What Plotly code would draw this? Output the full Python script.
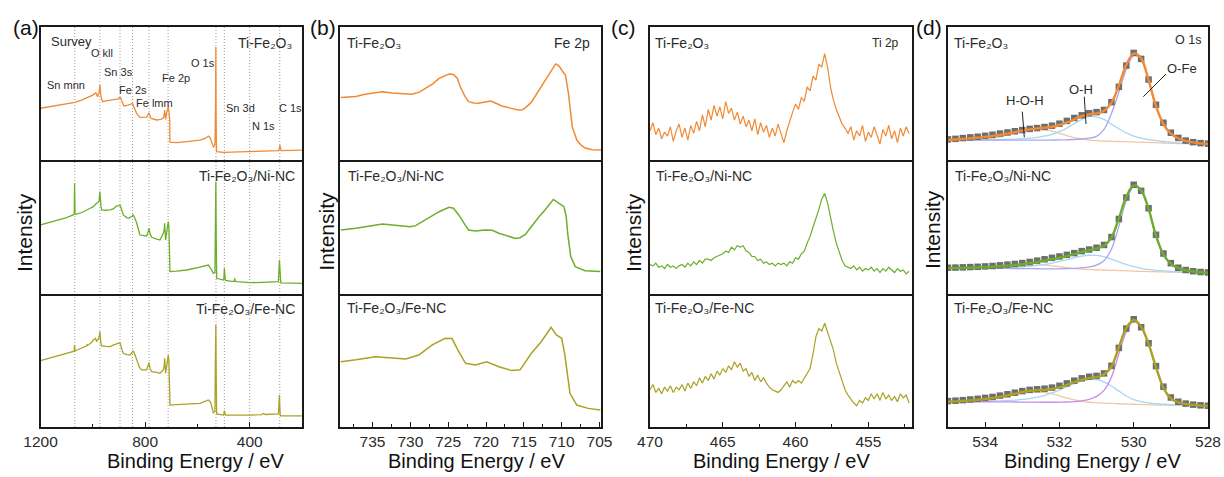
import numpy as np
import plotly.graph_objects as go

# ---------------------------------------------------------------- data
SAMPLES = ["Ti-Fe₂O₃",
           "Ti-Fe₂O₃/Ni-NC",
           "Ti-Fe₂O₃/Fe-NC"]

# (a) survey spectra: (binding energy / eV, intensity / a.u.)
survey_ti = [
    (1200, 38.9), (1150, 40.5), (1100, 42.3), (1068.6, 43.4), (1040, 45.2), (1010, 47.8),
    (998.4, 49.0), (988, 50.6), (985.6, 49.5), (981.8, 47.6), (976, 51.0), (972.9, 56.4),
    (969, 48.0), (962.7, 43.8), (950, 44.5), (934.6, 45.1), (915, 45.6), (902.7, 46.0),
    (897, 47.0), (893.8, 46.8), (888, 44.0), (881, 40.6), (865, 41.3), (851.7, 42.1),
    (848, 42.5), (845.3, 41.0), (838, 37.0), (832.5, 35.1), (819.8, 32.1), (805, 32.0),
    (794.2, 32.3), (789, 34.0), (785.3, 35.6), (781, 33.0), (777.6, 31.3), (755.9, 30.1),
    (740, 30.6), (730.4, 31.5), (727, 34.0), (725.3, 37.6), (723, 33.0), (721.5, 30.5),
    (718, 35.0), (715.1, 38.0), (711.3, 40.1), (709, 37.0), (706, 30.0), (704.9, 13.5),
    (690, 13.2), (679.4, 13.0), (640, 13.8), (590.1, 15.0), (570, 16.2), (558.2, 18.0),
    (552, 17.0), (549.2, 15.5), (545, 12.5), (539, 10.0), (534, 11.0), (532.7, 12.5),
    (530.5, 45.0), (529.5, 85.0), (528.5, 30.0), (527, 8.0), (526.3, 6.3), (500.8, 5.8),
    (450, 5.9), (398.7, 6.3), (350, 6.6), (290.2, 7.0), (286, 9.0), (284.5, 11.3),
    (283, 8.0), (280, 7.0), (240, 7.2), (200.9, 7.5)]

survey_ni = [
    (1200, 51.5), (1150, 54.0), (1100, 57.0), (1075, 59.0), (1071, 59.5), (1069.8, 82.6),
    (1068, 60.0), (1064.7, 59.5), (1040, 61.0), (1010, 64.0), (998.4, 65.2), (985.6, 67.7),
    (979.3, 68.5), (975.5, 70.0), (972.9, 76.4), (969, 66.0), (966.5, 62.7), (950, 62.5),
    (934.6, 62.7), (921.8, 63.5), (909.1, 65.7), (900, 66.0), (896.3, 66.4), (890, 63.0),
    (883.6, 59.0), (870, 57.0), (864.4, 56.5), (850, 58.0), (845.3, 59.0), (838, 56.0),
    (832.5, 53.2), (819.8, 44.0), (805, 43.5), (794.2, 43.3), (789, 46.0), (785.3, 49.0),
    (781, 45.0), (775.1, 42.3), (755, 41.0), (743.2, 40.3), (730.4, 45.3), (727, 48.0),
    (725.3, 52.8), (723, 44.0), (721.5, 40.3), (716, 48.0), (713, 52.0), (711.3, 54.0),
    (709, 50.0), (706, 35.0), (704.9, 16.7), (680, 17.0), (641.1, 17.9), (590.1, 20.0),
    (558.2, 21.6), (549.2, 19.2), (539, 15.4), (533, 16.0), (531.5, 50.0), (529.5, 83.8),
    (528, 40.0), (526.3, 11.7), (500.8, 10.4), (498.5, 12.0), (496.9, 19.2), (495, 11.0),
    (493.1, 10.2), (470, 9.4), (462.5, 9.2), (459, 9.5), (457.5, 11.7), (455, 9.5),
    (449.7, 9.2), (398.7, 8.5), (350, 8.7), (290.2, 9.2), (286.4, 25.4), (283.5, 9.0),
    (281.3, 8.3), (240, 8.1), (200.9, 8.0)]

survey_fe = [
    (1200, 49.9), (1150, 52.5), (1100, 55.2), (1075, 56.6), (1071, 57.0), (1069.8, 61.7),
    (1068, 57.2), (1064.7, 57.5), (1040, 59.5), (1022.5, 61.0), (1021.4, 62.4), (1019, 61.5),
    (1016.3, 61.8), (1005, 63.5), (998.4, 65.4), (990, 66.5), (985.6, 64.5), (979.3, 66.0),
    (975.5, 68.0), (972.9, 71.7), (969, 63.0), (966.5, 60.9), (950, 60.6), (934.6, 60.4),
    (921.8, 61.5), (909.1, 62.3), (900, 63.0), (896.3, 63.4), (890, 59.0), (883.6, 55.4),
    (870, 54.5), (858, 54.1), (850, 56.0), (845.3, 57.4), (838, 54.0), (832.5, 50.4),
    (822, 45.0), (813.4, 42.9), (794.2, 42.9), (789, 46.0), (785.3, 48.4), (781, 44.0),
    (775.1, 41.6), (755, 41.0), (743.2, 40.4), (730.4, 42.9), (727, 46.0), (725.3, 51.6),
    (723, 43.0), (721.5, 40.4), (716, 48.0), (713, 52.0), (711.3, 54.1), (709, 49.0),
    (706, 35.0), (704.9, 16.5), (680, 16.8), (641.1, 17.3), (590.1, 17.8), (558.2, 20.3),
    (549.2, 18.5), (539, 10.8), (533, 11.5), (531.5, 45.0), (529.5, 76.7), (528, 35.0),
    (526.3, 9.8), (500.8, 9.0), (498.5, 10.0), (496.9, 12.3), (495, 9.2), (493.1, 9.0),
    (398.7, 9.0), (355, 9.3), (347.6, 10.2), (340, 9.4), (290.2, 9.8), (286.4, 24.1),
    (283.5, 9.0), (281.3, 8.3), (240, 8.3), (200.9, 8.3)]

survey_peaks = [1069, 973, 896, 848, 785, 712, 529, 497, 400, 285]
survey_labels = [("Sn mnn", 65.8, 85), ("O kll", 101.7, 53.3), ("Sn 3s", 118, 71.7),
                 ("Fe 2s", 133, 90), ("Fe lmm", 154.7, 103.3), ("Fe 2p", 175.7, 77.7),
                 ("O 1s", 203, 62.7), ("Sn 3d", 240.8, 108.3), ("N 1s", 263, 126),
                 ("C 1s", 290.8, 107.7)]

# (b) Fe 2p
fe2p_ti = [
    (739.2, 46.9), (738.5, 47.3), (737.2, 47.8), (736, 49.5), (735, 50.5), (733.7, 51.4),
    (732.4, 50.3), (731, 49.6), (729.8, 49.4), (728.8, 51.0), (728, 53.9), (727, 57.5),
    (726.2, 61.4), (725.5, 63.5), (724.9, 64.7), (724.3, 64.3), (723.8, 61.5), (723.4, 55.1),
    (722.8, 48.0), (722.3, 43.9), (721.6, 42.8), (721, 42.6), (720.2, 43.5), (719.4, 44.4),
    (718.6, 42.5), (717.9, 40.6), (716.8, 39.0), (715.7, 37.6), (715.2, 37.8), (714.8, 39.2),
    (714, 43.5), (713, 52.6), (712.2, 59.0), (711.5, 66.4), (711.1, 70.0), (710.8, 72.2),
    (710.5, 71.3), (710.2, 69.5), (709.8, 66.0), (709.5, 63.9), (709.1, 50.0), (708.6, 25.0),
    (708, 15.0), (707.4, 11.0), (706.9, 9.0), (706, 7.8), (704.8, 7.5)]

fe2p_ni = [
    (739.2, 47.8), (737.2, 49.0), (733.7, 52.2), (732.4, 51.5), (730, 50.2), (729.3, 51.0),
    (728, 55.2), (726.2, 61.4), (724.9, 64.7), (724.3, 64.0), (723.6, 59.0), (723.2, 55.2),
    (722.7, 51.0), (722.3, 47.8), (721.4, 47.0), (720.1, 47.8), (719.2, 47.5), (718.3, 45.3),
    (716.1, 41.5), (715.5, 42.0), (714.8, 44.5), (713, 57.7), (712.2, 62.7), (711.1, 70.6),
    (710.4, 67.7), (709.7, 65.2), (709.4, 58.0), (709.2, 45.0), (708.8, 27.9), (708.2, 20.4),
    (706.9, 17.4), (704.9, 16.7)]

fe2p_fe = [
    (739.2, 49.1), (737.2, 50.5), (734.6, 52.9), (732.9, 52.0), (730.6, 51.1), (728.9, 54.1),
    (727.1, 61.7), (725.4, 66.7), (724.5, 66.5), (723.6, 56.6), (722.7, 47.9), (721.4, 46.6),
    (719.9, 49.1), (718.3, 45.3), (716.6, 42.4), (715.5, 43.0), (714, 55.4), (712.7, 64.1),
    (711.4, 75.0), (710.7, 69.2), (710, 66.7), (709.6, 55.0), (708.9, 25.3), (708, 16.5),
    (706.5, 14.0), (704.9, 12.8)]

# (c) Ti 2p, 0.2 eV steps from 470.0 eV
ti2p_energy = np.round(470.0 - 0.2 * np.arange(90), 1)
ti2p_ti = [22, 28, 19, 24, 16, 21, 18, 25, 14, 22,
           27, 17, 24, 15, 26, 20, 29, 22, 34, 25,
           38, 30, 41, 33, 40, 31, 44, 35, 39, 30,
           36, 27, 33, 25, 30, 22, 31, 19, 28, 21,
           26, 17, 24, 18, 27, 20, 13, 22, 30, 36,
           42, 38, 47, 44, 55, 52, 63, 60, 72, 70,
           80, 70, 55, 45, 38, 32, 27, 24, 20, 25,
           15, 22, 18, 26, 14, 21, 17, 25, 19, 12,
           23, 18, 26, 16, 22, 13, 24, 18, 25, 20]
ti2p_ni = [22, 21, 23, 20, 21, 19, 22, 20, 21, 19,
           21, 22, 20, 23, 21, 24, 22, 25, 23, 26,
           26, 25, 27, 28, 29, 30, 32, 31, 35, 33,
           36, 35, 36, 32, 31, 28, 28, 25, 26, 23,
           24, 22, 23, 21, 23, 22, 23, 21, 24, 23,
           27, 26, 30, 32, 38, 43, 50, 56, 63, 71,
           75, 68, 57, 47, 38, 31, 25, 21, 20, 19,
           21, 18, 20, 17, 19, 18, 20, 17, 19, 16,
           19, 17, 20, 18, 16, 19, 17, 18, 15, 17]
ti2p_fe = [28, 32, 26, 29, 25, 30, 27, 31, 26, 30,
           28, 32, 27, 33, 29, 34, 31, 37, 33, 38,
           35, 40, 36, 42, 39, 44, 41, 46, 43, 49,
           45, 48, 42, 44, 38, 41, 35, 39, 34, 37,
           33, 30, 28, 27, 26, 28, 31, 34, 30, 35,
           33, 35, 33, 37, 40, 44, 55, 68, 74, 72,
           78, 71, 65, 58, 48, 41, 34, 28, 24, 21,
           18, 16, 20, 18, 22, 20, 25, 21, 25, 20,
           26, 21, 24, 20, 23, 19, 25, 22, 24, 18]

# (d) O 1s: measured points, fit envelope and fitted components
o1s_energy = [535.0, 534.8, 534.6, 534.4, 534.2, 534.0, 533.8, 533.6, 533.4, 533.2,
              533.0, 532.8, 532.6, 532.4, 532.2, 532.0, 531.8, 531.6, 531.4, 531.2,
              531.0, 530.8, 530.6, 530.4, 530.2, 530.0, 529.8, 529.6, 529.4, 529.2,
              529.0, 528.8, 528.6, 528.4, 528.2, 528.0]

o1s_raw_ti = [15.5, 15.9, 16.5, 17.0, 17.5, 18.2, 19.0, 19.9, 20.7, 21.6,
              22.5, 23.4, 24.0, 24.8, 25.8, 27.3, 29.4, 31.6, 33.6, 35.2,
              36.0, 37.6, 43.5, 55.0, 71.0, 80.5, 76.0, 60.5, 41.5, 28.0,
              20.5, 16.6, 14.6, 13.4, 12.7, 12.3]
o1s_fit_ti = [15.0, 15.4, 15.8, 16.3, 16.8, 17.4, 18.1, 18.9, 19.8, 20.9,
              22.0, 23.0, 23.7, 24.2, 25.0, 26.3, 28.2, 30.6, 32.9, 34.3,
              35.0, 37.0, 43.0, 56.0, 71.5, 80.0, 76.5, 60.0, 40.5, 27.0,
              19.8, 16.3, 14.4, 13.2, 12.5, 12.1]
o1s_hoh_ti = [15.0, 15.0, 15.1, 15.2, 15.4, 15.8, 16.4, 17.4, 18.8, 20.4,
              22.0, 23.0, 23.3, 23.0, 21.8, 20.1, 18.4, 16.9, 15.8, 15.0,
              14.5, 14.2, 14.05, 13.9, 13.75, 13.6, 13.4, 13.2, 13.0, 12.8,
              12.6, 12.4, 12.25, 12.1, 11.95, 11.8]
o1s_oh_ti = [15.0, 15.0, 15.05, 15.1, 15.15, 15.2, 15.3, 15.4, 15.5, 15.7,
             16.0, 16.4, 17.0, 17.9, 19.3, 21.3, 24.0, 27.3, 30.5, 32.6,
             32.5, 30.5, 27.0, 23.5, 20.4, 18.0, 16.4, 15.3, 14.5, 13.9,
             13.4, 12.9, 12.5, 12.2, 12.0, 11.8]
o1s_ofe_ti = [15.0, 15.0, 15.0, 15.0, 15.0, 15.0, 15.0, 15.0, 15.0, 15.0,
              15.0, 15.0, 15.0, 15.0, 15.0, 15.1, 15.2, 15.4, 15.8, 16.4,
              17.8, 23.0, 35.0, 51.0, 68.0, 78.5, 75.5, 59.5, 40.0, 26.8,
              19.6, 16.1, 14.2, 13.0, 12.3, 11.9]

o1s_raw_ni = [19.6, 19.7, 19.9, 20.1, 20.3, 20.6, 20.9, 21.4, 21.9, 22.4,
              23.1, 23.9, 24.9, 25.9, 27.0, 28.0, 29.2, 30.5, 32.0, 33.2,
              34.5, 36.6, 42.5, 56.0, 72.0, 81.5, 77.0, 64.0, 44.2, 30.2,
              23.0, 19.6, 17.9, 17.0, 16.4, 16.1]
o1s_fit_ni = [19.2, 19.3, 19.5, 19.6, 19.8, 20.0, 20.3, 20.7, 21.1, 21.6,
              22.3, 23.0, 23.9, 25.0, 26.0, 27.1, 28.3, 29.8, 31.4, 32.7,
              33.9, 36.0, 42.0, 56.5, 72.5, 81.0, 77.5, 63.5, 43.5, 29.5,
              22.5, 19.3, 17.7, 16.8, 16.2, 15.9]
o1s_hoh_ni = [19.2, 19.2, 19.2, 19.25, 19.3, 19.4, 19.5, 19.7, 20.0, 20.4,
              20.8, 21.3, 21.6, 21.5, 21.0, 20.3, 19.6, 19.0, 18.6, 18.3,
              18.1, 17.9, 17.7, 17.5, 17.3, 17.1, 16.9, 16.75, 16.6, 16.45,
              16.3, 16.2, 16.1, 16.0, 15.9, 15.8]
o1s_oh_ni = [19.2, 19.2, 19.25, 19.3, 19.35, 19.4, 19.5, 19.6, 19.8, 20.0,
             20.3, 20.7, 21.3, 22.1, 23.1, 24.3, 25.6, 27.0, 28.2, 28.9,
             28.8, 27.8, 26.0, 24.0, 22.0, 20.4, 19.2, 18.3, 17.7, 17.3,
             16.9, 16.6, 16.3, 16.1, 15.9, 15.8]
o1s_ofe_ni = [19.2, 19.2, 19.2, 19.2, 19.2, 19.2, 19.15, 19.1, 19.05, 19.0,
              18.95, 18.9, 18.85, 18.8, 18.8, 18.8, 18.9, 19.1, 19.5, 20.2,
              21.6, 24.8, 33.5, 50.5, 69.5, 80.0, 76.8, 63.0, 43.0, 29.0,
              22.2, 19.0, 17.5, 16.6, 16.1, 15.8]

o1s_raw_fe = [19.5, 19.8, 20.2, 20.7, 21.2, 21.9, 22.6, 23.6, 24.6, 25.8,
              27.0, 27.9, 28.4, 28.8, 29.6, 31.0, 32.8, 34.8, 36.6, 37.8,
              38.4, 40.3, 46.0, 59.5, 74.0, 81.0, 75.0, 63.0, 45.8, 30.3,
              22.2, 19.0, 17.6, 16.8, 16.3, 16.0]
o1s_fit_fe = [19.0, 19.3, 19.6, 20.0, 20.5, 21.1, 21.8, 22.7, 23.8, 25.0,
              26.3, 27.3, 27.7, 27.9, 28.6, 29.8, 31.6, 33.7, 35.6, 36.8,
              37.4, 39.5, 45.5, 60.0, 74.5, 80.5, 75.5, 62.5, 45.0, 29.5,
              21.5, 18.6, 17.3, 16.6, 16.1, 15.8]
o1s_hoh_fe = [19.0, 19.05, 19.1, 19.3, 19.6, 20.1, 20.8, 21.8, 23.0, 24.3,
              25.5, 26.3, 26.5, 26.0, 24.9, 23.4, 21.8, 20.4, 19.3, 18.6,
              18.2, 17.9, 17.7, 17.5, 17.3, 17.1, 16.9, 16.75, 16.6, 16.45,
              16.3, 16.2, 16.05, 15.95, 15.85, 15.75]
o1s_oh_fe = [19.0, 19.0, 19.05, 19.1, 19.2, 19.3, 19.45, 19.6, 19.9, 20.2,
             20.7, 21.4, 22.4, 23.8, 25.6, 27.8, 30.2, 32.6, 34.6, 35.7,
             35.6, 34.0, 30.8, 27.0, 23.3, 20.6, 19.0, 18.1, 17.5, 17.1,
             16.8, 16.5, 16.3, 16.1, 15.9, 15.75]
o1s_ofe_fe = [19.0, 19.0, 19.0, 19.0, 19.0, 19.0, 18.95, 18.9, 18.85, 18.8,
              18.75, 18.7, 18.65, 18.6, 18.6, 18.65, 18.8, 19.1, 19.7, 20.8,
              23.0, 27.5, 37.5, 55.0, 71.5, 79.5, 75.0, 62.0, 44.5, 29.0,
              21.0, 18.1, 16.9, 16.3, 15.95, 15.75]

# ---------------------------------------------------------------- styling
W, H = 1224, 477
FONT = "Liberation Sans, Arial, Helvetica, sans-serif"
FRAME = "#1a1a1a"
TEXT = "#2b2b2b"
SERIES = ["#F08A34", "#6CAE2C", "#ABA224"]
SQUARE = "#6E6E6E"
C_OFE = ["#A9A6F2", "#A9A6F2", "#C68EF0"]
C_OH = "#A5D8F3"
C_HOH = "#F5C6A2"

COL_PX = [(40.5, 302), (340, 601), (650, 912), (948, 1208)]
ROW_PX = [(27, 160), (160, 294), (294, 427)]
X_RANGE = [[1200, 200], [739.3, 704.8], [470, 452], [535, 528]]
X_DTICK = [400, 5, 5, 2]


def sfx(i):
    return "" if i == 1 else str(i)


def idx(col, row):
    return col * 3 + row + 1


def px(x, y):
    return x / W, 1 - y / H


fig = go.Figure()


def add_line(col, row, x, y, color, width, shape="linear"):
    i = idx(col, row)
    fig.add_trace(go.Scatter(x=list(x), y=list(y), mode="lines",
                             line=dict(color=color, width=width, shape=shape),
                             xaxis="x" + sfx(i), yaxis="y" + sfx(i),
                             showlegend=False, hoverinfo="skip"))


# (a) survey
for row, data in enumerate([survey_ti, survey_ni, survey_fe]):
    e, v = zip(*data)
    add_line(0, row, e, v, SERIES[row], 1.3)

# (b) Fe 2p
for row, data in enumerate([fe2p_ti, fe2p_ni, fe2p_fe]):
    e, v = zip(*data)
    add_line(1, row, e, v, SERIES[row], 1.5)

# (c) Ti 2p
for row, vals in enumerate([ti2p_ti, ti2p_ni, ti2p_fe]):
    add_line(2, row, ti2p_energy, vals, SERIES[row], 1.2)

# (d) O 1s
o1s_sets = [
    (o1s_raw_ti, o1s_fit_ti, o1s_hoh_ti, o1s_oh_ti, o1s_ofe_ti),
    (o1s_raw_ni, o1s_fit_ni, o1s_hoh_ni, o1s_oh_ni, o1s_ofe_ni),
    (o1s_raw_fe, o1s_fit_fe, o1s_hoh_fe, o1s_oh_fe, o1s_ofe_fe),
]
for row, (raw, fit, hoh, oh, ofe) in enumerate(o1s_sets):
    add_line(3, row, o1s_energy, hoh, C_HOH, 1.3, "spline")
    add_line(3, row, o1s_energy, oh, C_OH, 1.3, "spline")
    add_line(3, row, o1s_energy, ofe, C_OFE[row], 1.3, "spline")
    i = idx(3, row)
    fig.add_trace(go.Scatter(x=o1s_energy, y=raw, mode="markers",
                             marker=dict(symbol="square", size=6.5, color=SQUARE,
                                         line=dict(width=0)),
                             xaxis="x" + sfx(i), yaxis="y" + sfx(i),
                             showlegend=False, hoverinfo="skip"))
    add_line(3, row, o1s_energy, fit, SERIES[row], 2.4, "spline")

# ---------------------------------------------------------------- axes
# each column is a stack of three frames; the top frame is fully boxed and the
# lower frames draw only their bottom edge, so every separator is a single line
axes = {}
for c in range(4):
    for r in range(3):
        i = idx(c, r)
        x0, x1 = COL_PX[c]
        top, bot = ROW_PX[r]
        xa = dict(domain=[x0 / W, x1 / W], range=X_RANGE[c], anchor="y" + sfx(i),
                  showline=True, mirror=(r == 0), linecolor=FRAME, linewidth=1.6,
                  showgrid=False, zeroline=False, fixedrange=True, automargin=False)
        if r == 2:
            xa.update(ticks="inside", ticklen=5, tickwidth=1.2, tickcolor=FRAME,
                      tick0=0, dtick=X_DTICK[c], showticklabels=True,
                      tickfont=dict(size=15.5, color=TEXT, family=FONT),
                      minor=dict(ticks="inside", ticklen=3, tickwidth=1,
                                 tickcolor=FRAME, dtick=X_DTICK[c] / 2))
        else:
            xa.update(ticks="", showticklabels=False)
        ya = dict(domain=[1 - bot / H, 1 - top / H], range=[0, 100], anchor="x" + sfx(i),
                  showline=True, mirror=True, linecolor=FRAME, linewidth=1.6,
                  showgrid=False, zeroline=False, ticks="", showticklabels=False,
                  fixedrange=True, automargin=False)
        axes["xaxis" + sfx(i)] = xa
        axes["yaxis" + sfx(i)] = ya

# ---------------------------------------------------------------- texts
notes = []


def note(text, x, y, size, xanchor="center", color=TEXT, angle=0):
    xp, yp = px(x, y)
    notes.append(dict(text=text, x=xp, y=yp, xref="paper", yref="paper",
                      xanchor=xanchor, yanchor="middle", showarrow=False,
                      textangle=angle, font=dict(size=size, color=color, family=FONT)))


# panel letters
for letter, x in zip("abcd", [25.5, 322.5, 623, 928.5]):
    note(f"({letter})", x, 27.5, 21, color="#111111")

# axis titles
for x in [196, 476, 782, 1092]:
    note("Binding Energy / eV", x, 461, 20, color="#111111")
for x, y in [(25, 233), (325.7, 231), (634, 233), (933, 230)]:
    note("Intensity", x, y, 21, color="#111111", angle=-90)

# sample names
note(SAMPLES[0], 293.5, 43, 14, "right")
note(SAMPLES[1], 296.5, 175.5, 14, "right")
note(SAMPLES[2], 296.5, 308.5, 14, "right")
for x in [345, 653, 952]:
    note(SAMPLES[0], x, 43, 14, "left")
    note(SAMPLES[1], x + 1, 175.5, 14, "left")
    note(SAMPLES[2], x, 307.5, 14, "left")

# region names
note("Survey", 71.5, 41, 13)
note("Fe 2p", 592, 43, 14, "right")
note("Ti 2p", 901, 43, 12, "right")
note("O 1s", 1202.5, 40.5, 12.5, "right")

# survey peak assignments
for text, x, y in survey_labels:
    note(text, x, y, 11)

# O 1s component names
note("H-O-H", 1024.5, 100, 13)
note("O-H", 1080.7, 89.3, 13)
note("O-Fe", 1181.7, 68.3, 13)

# ---------------------------------------------------------------- shapes
shapes = []
y_lo, y_hi = 1 - ROW_PX[2][1] / H, 1 - ROW_PX[0][0] / H
for e in survey_peaks:
    shapes.append(dict(type="line", xref="x", yref="paper", x0=e, x1=e, y0=y_lo, y1=y_hi,
                       line=dict(color="#9c9c9c", width=1, dash="1px,2px"), layer="below"))

for (xa, ya), (xb, yb) in [((1022.3, 111.7), (1024.3, 137.3)),
                           ((1084.3, 96.7), (1086.0, 124.0)),
                           ((1166.0, 74.0), (1143.3, 96.7))]:
    p0, p1 = px(xa, ya), px(xb, yb)
    shapes.append(dict(type="line", xref="paper", yref="paper", x0=p0[0], y0=p0[1],
                       x1=p1[0], y1=p1[1], line=dict(color="#222222", width=1)))

fig.update_layout(width=W, height=H, margin=dict(l=0, r=0, t=0, b=0, pad=0),
                  autosize=False,
                  paper_bgcolor="white", plot_bgcolor="rgba(0,0,0,0)",
                  font=dict(family=FONT, color=TEXT), showlegend=False,
                  annotations=notes, shapes=shapes, **axes)

fig.write_html("out.html")
